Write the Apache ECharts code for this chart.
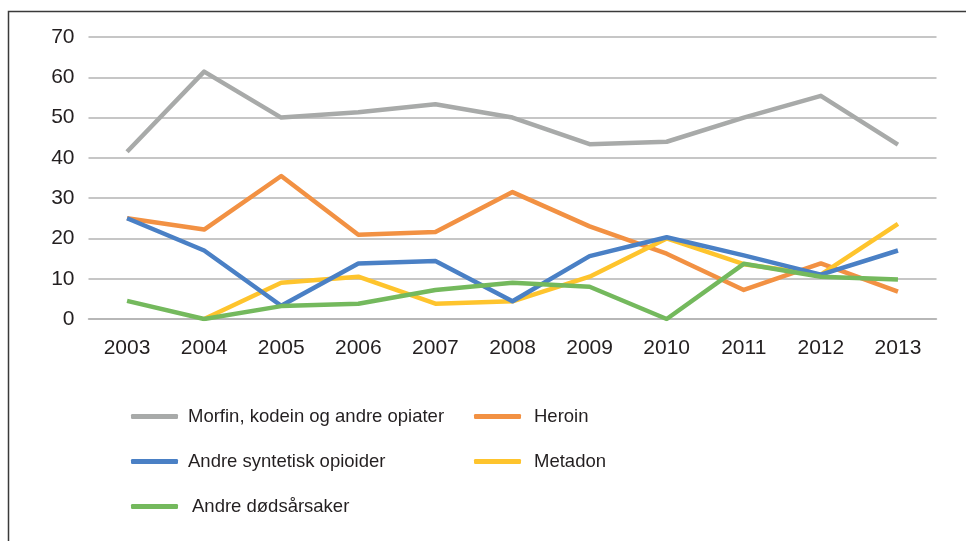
<!DOCTYPE html>
<html>
<head>
<meta charset="utf-8">
<script src="https://cdn.jsdelivr.net/npm/echarts@6/dist/echarts.min.js"></script>
<style>
html, body { margin: 0; padding: 0; background: #fff; }
#myChart { width: 966px; height: 541px; }
</style>
</head>
<body>
<div id="myChart"></div>
<script>
// 年份
var years = ['2003', '2004', '2005', '2006', '2007', '2008', '2009', '2010', '2011', '2012', '2013'];
var yTicks = [0, 10, 20, 30, 40, 50, 60, 70];

// 数据
var morfin = [41.5, 61.4, 50, 51.3, 53.3, 50, 43.4, 44, 50, 55.4, 43.3];
var heroin = [25, 22.2, 35.5, 20.9, 21.6, 31.5, 23, 16.2, 7.2, 13.8, 6.8];
var metadon = [null, 0, 9, 10.5, 3.8, 4.4, 10.5, 20, 13.6, 11, 23.6];
var syntetisk = [25, 17, 3.3, 13.8, 14.4, 4.4, 15.6, 20.3, 15.8, 11, 17];
var andre = [4.5, 0, 3.2, 3.8, 7.2, 9, 8, 0, 13.7, 10.5, 9.8];

var names = ['Morfin, kodein og andre opiater', 'Heroin', 'Andre syntetisk opioider', 'Metadon', 'Andre dødsårsaker'];
var font = 'Liberation Sans, Arial, sans-serif';

function legendItem(name, left, top, pad) {
	return {
		data: [name],
		left: left,
		top: top,
		padding: 0,
		icon: 'roundRect',
		itemWidth: 47,
		itemHeight: 5,
		textStyle: {
			fontFamily: font,
			fontSize: 18.5,
			color: '#231f20',
			padding: [0, 0, 0, pad]
		}
	};
}

function line(name, data, color) {
	return {
		name: name,
		type: 'line',
		data: data,
		symbol: 'none',
		connectNulls: false,
		itemStyle: { color: color },
		lineStyle: { color: color, width: 4.5, join: 'round' }
	};
}

var myChart = echarts.init(document.getElementById('myChart'));
var option = {
	animation: false,
	backgroundColor: '#fff',
	grid: {
		left: 88.5,
		right: 29.5,
		top: 37,
		bottom: 222
	},
	legend: [
		legendItem(names[0], 131, 407, 5),
		legendItem(names[1], 474, 407, 8),
		legendItem(names[2], 131, 452, 5),
		legendItem(names[3], 474, 452, 8),
		legendItem(names[4], 131, 497, 9)
	],
	xAxis: {
		type: 'category',
		data: years,
		boundaryGap: true,
		axisLine: { lineStyle: { color: '#b3b3b3', width: 1.5 } },
		axisTick: { show: false },
		axisLabel: {
			margin: 19,
			fontFamily: font,
			fontSize: 21,
			color: '#231f20'
		}
	},
	yAxis: {
		type: 'value',
		min: yTicks[0],
		max: yTicks[yTicks.length - 1],
		interval: 10,
		axisLine: { show: false },
		axisTick: { show: false },
		splitLine: { lineStyle: { color: '#b3b3b3', width: 1.5 } },
		axisLabel: {
			margin: 14,
			fontFamily: font,
			fontSize: 21,
			color: '#231f20',
			padding: [3, 0, 0, 0]
		}
	},
	// 外框
	graphic: [{
		type: 'polyline',
		shape: { points: [[8.5, 541], [8.5, 11.5], [966, 11.5]] },
		style: { stroke: '#3a3a3a', lineWidth: 1.5, fill: null }
	}],
	series: [
		line(names[0], morfin, '#a8aaa9'),
		line(names[1], heroin, '#f29143'),
		line(names[3], metadon, '#fec42d'),
		line(names[2], syntetisk, '#4a80c5'),
		line(names[4], andre, '#74b95d')
	]
};
myChart.setOption(option);
</script>
</body>
</html>
